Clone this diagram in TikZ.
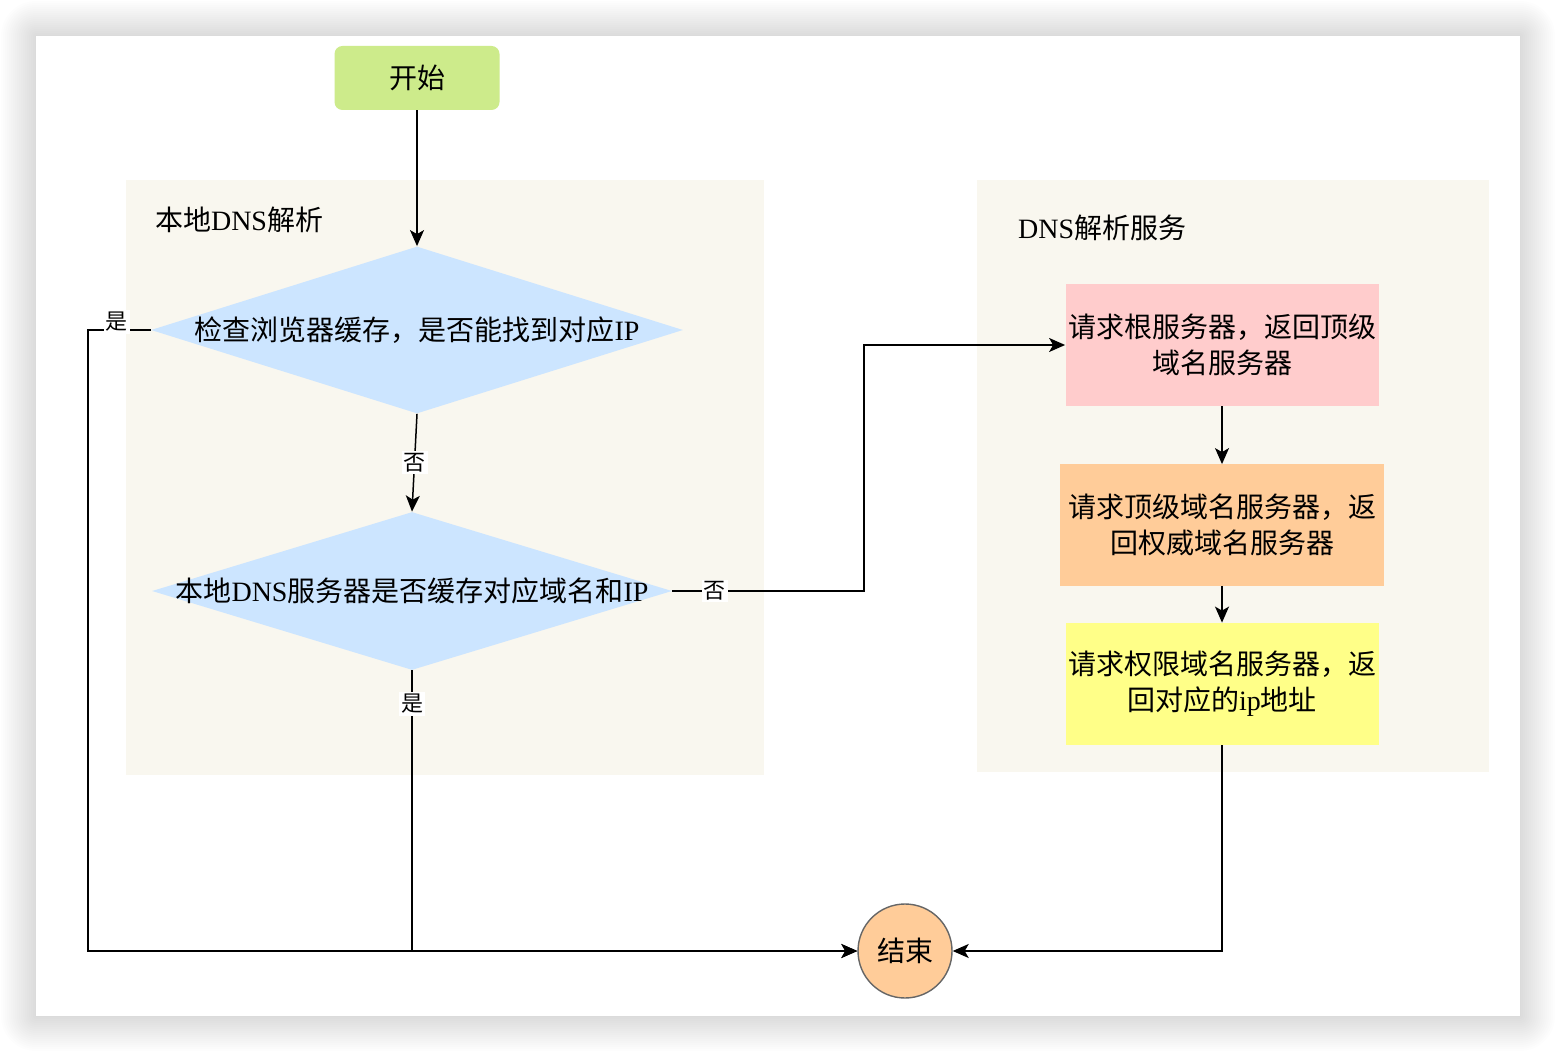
\documentclass[tikz,border=0pt]{standalone}
\usepackage{fontspec}
\setmainfont{Noto Sans CJK SC}
\newfontfamily\latin{Liberation Serif}
\usetikzlibrary{shapes.geometric,arrows.meta}

\definecolor{startbg}{HTML}{CDEB8B}
\definecolor{groupbg}{HTML}{F9F7EF}
\definecolor{decbg}{HTML}{CCE5FF}
\definecolor{rootbg}{HTML}{FFCCCC}
\definecolor{tldbg}{HTML}{FFCC99}
\definecolor{authbg}{HTML}{FFFF88}
\definecolor{edgegray}{HTML}{666666}

\begin{document}
\begin{tikzpicture}[x=0.5pt, y=-0.5pt,
    font=\fontsize{14}{18}\selectfont,
    line/.style={draw, line width=0.75pt, -{Stealth[length=8pt, width=7pt, inset=2pt]}},
    lbl/.style={fill=white, inner sep=1pt, font=\fontsize{11}{13}\selectfont},
    group/.style={fill=groupbg},
    decision/.style={diamond, fill=decbg, inner sep=0pt},
    stepbox/.style={rectangle, align=center, inner sep=1pt}]
    \useasboundingbox (0,0) rectangle (1556,1052);
    % card + shadow
    \fill[white] (0,0) rectangle (1556,1052);
    \foreach \s in {1,3,...,35}
      \fill[black, opacity=0.009, rounded corners=\s*0.5pt] (36-\s,36-\s) rectangle (1520+\s,1016+\s);
    \fill[white] (36,36) rectangle (1520,1016);
    % groups
    \fill[group] (126,180) rectangle (764,775);
    \fill[group] (977,180) rectangle (1489,772);
    \node (locname) [anchor=west] at (148,220) {本地{\latin DNS}解析};
    \node (srvname) [anchor=west] at (1011,228) {{\latin DNS}解析服务};
    % start / end
    \node (start) [fill=startbg, rounded corners=4pt, minimum width=82.5pt, minimum height=32pt]
          at (417,78) {开始};
    \node (end) [circle, fill=tldbg, draw=edgegray, line width=0.7pt, minimum size=47pt, inner sep=0pt]
          at (905,951) {结束};
    % decisions
    \node (d1) [decision, minimum width=266pt, minimum height=83.5pt,
          label=center:{检查浏览器缓存，是否能找到对应{\latin IP}}] at (417,330) {};
    \node (d2) [decision, minimum width=260pt, minimum height=79pt,
          label=center:{本地{\latin DNS}服务器是否缓存对应域名和{\latin IP}}] at (412,591) {};
    % DNS servers
    \node (r1) [stepbox, fill=rootbg, minimum width=156.5pt, minimum height=61pt]
          at (1222,345) {请求根服务器，返回顶级\\域名服务器};
    \node (r2) [stepbox, fill=tldbg, minimum width=162pt, minimum height=60.5pt]
          at (1222,525) {请求顶级域名服务器，返\\回权威域名服务器};
    \node (r3) [stepbox, fill=authbg, minimum width=156.5pt, minimum height=61pt]
          at (1222,684) {请求权限域名服务器，返\\回对应的{\latin ip}地址};
    \coordinate (leftbend) at (88,951);
    \coordinate (nobend) at (864,591);
    % edges
    \draw[line] (start.south) -- (d1.north);
    \draw[line] (d1.south) -- node[lbl] {否} (d2.north);
    \draw[line] (d1.west) -| node[lbl, pos=0.27, yshift=4pt] {是} (leftbend) -- (end.west);
    \draw[line] (d2.south) |- node[lbl, pos=0.06] {是} (end.west);
    \draw[line] (d2.east) -- node[lbl, pos=0.22] {否} (nobend) |- (r1.west);
    \draw[line] (r1) -- (r2);
    \draw[line] (r2) -- (r3);
    \draw[line] (r3.south) |- (end.east);
\end{tikzpicture}
\end{document}
